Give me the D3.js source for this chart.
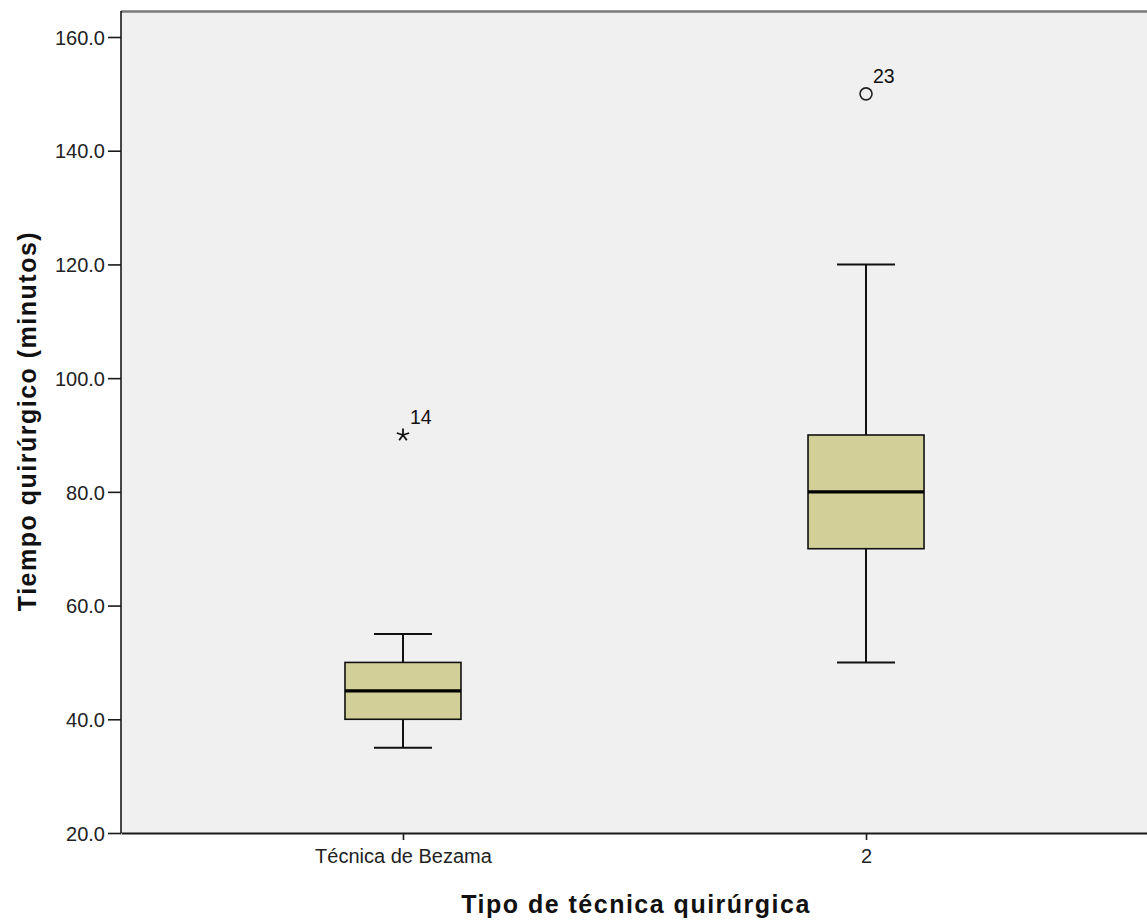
<!DOCTYPE html>
<html>
<head>
<meta charset="utf-8">
<script src="https://cdn.jsdelivr.net/npm/d3@7"></script>
<style>
  html, body { margin: 0; padding: 0; background: #ffffff; }
  svg { display: block; }
</style>
</head>
<body>
<svg id="chart" width="1147" height="924"></svg>
<script>
// Categories and five-number summaries (minutes)
const categories = ["Técnica de Bezama", "2"];
const whiskerLow = [35, 50];
const q1 = [40, 70];
const medians = [45, 80];
const q3 = [50, 90];
const whiskerHigh = [55, 120];

// Outlying cases: case id, group, value, kind (extreme = star, outlier = circle)
const outlierCase = ["14", "23"];
const outlierGroup = ["Técnica de Bezama", "2"];
const outlierValue = [90, 150];
const outlierKind = ["extreme", "outlier"];

const yTicks = [20, 40, 60, 80, 100, 120, 140, 160];
const yTitle = "Tiempo quirúrgico (minutos)";
const xTitle = "Tipo de técnica quirúrgica";

const svg = d3.select("#chart");
const plotLeft = 121, plotRight = 1148, plotTop = 11, plotBottom = 833;
const font = "Liberation Sans, Arial, sans-serif";

const y = d3.scaleLinear().domain([20, 160]).range([plotBottom, 37]);
const x = d3.scalePoint().domain(categories).range([plotLeft, plotRight]).padding(0.609);

// plot background and frame
svg.append("rect")
  .attr("x", plotLeft).attr("y", plotTop)
  .attr("width", plotRight - plotLeft).attr("height", plotBottom - plotTop)
  .attr("fill", "#f0f0f0");
svg.append("line")
  .attr("x1", plotLeft).attr("x2", plotRight)
  .attr("y1", plotTop + 0.5).attr("y2", plotTop + 0.5)
  .attr("stroke", "#7a7a7a").attr("stroke-width", 2.5);

// axes
const yAxis = d3.axisLeft(y).tickValues(yTicks).tickFormat(d3.format(".1f"))
  .tickSize(13).tickPadding(3).tickSizeOuter(0);
const gy = svg.append("g").attr("transform", `translate(${plotLeft},0)`).call(yAxis);
gy.select(".domain").attr("stroke", "#1a1a1a").attr("stroke-width", 1.6)
  .attr("d", `M0,${plotBottom}V${plotTop}`);
gy.selectAll(".tick line").attr("stroke", "#1a1a1a").attr("stroke-width", 1.6);
gy.selectAll(".tick text").attr("fill", "#222").attr("font-size", 20)
  .attr("font-family", font).attr("dy", "0.36em");

const xAxis = d3.axisBottom(x).tickSize(7).tickPadding(9).tickSizeOuter(0);
const gx = svg.append("g").attr("transform", `translate(0,${plotBottom})`).call(xAxis);
gx.select(".domain").attr("stroke", "#1a1a1a").attr("stroke-width", 2);
gx.selectAll(".tick line").attr("stroke", "#1a1a1a").attr("stroke-width", 1.6);
gx.selectAll(".tick text").attr("fill", "#222").attr("font-size", 20)
  .attr("font-family", font);

// axis titles
svg.append("text")
  .attr("x", 636).attr("y", 913)
  .attr("text-anchor", "middle")
  .attr("font-family", font)
  .attr("font-weight", "bold").attr("font-size", 25).attr("letter-spacing", 1.5)
  .attr("fill", "#111")
  .text(xTitle);
svg.append("text")
  .attr("transform", `translate(36,421) rotate(-90)`)
  .attr("text-anchor", "middle")
  .attr("font-family", font)
  .attr("font-weight", "bold").attr("font-size", 25).attr("letter-spacing", 1.5)
  .attr("fill", "#111")
  .text(yTitle);

// boxplots
const boxW = 116, capW = 58;
const plot = svg.append("g");
categories.forEach((c, i) => {
  const cx = x(c);
  const g = plot.append("g");
  // whiskers
  g.append("line").attr("x1", cx).attr("x2", cx)
    .attr("y1", y(q3[i])).attr("y2", y(whiskerHigh[i]))
    .attr("stroke", "#111").attr("stroke-width", 2);
  g.append("line").attr("x1", cx).attr("x2", cx)
    .attr("y1", y(q1[i])).attr("y2", y(whiskerLow[i]))
    .attr("stroke", "#111").attr("stroke-width", 2);
  [whiskerHigh[i], whiskerLow[i]].forEach(v => {
    g.append("line").attr("x1", cx - capW / 2).attr("x2", cx + capW / 2)
      .attr("y1", y(v)).attr("y2", y(v))
      .attr("stroke", "#111").attr("stroke-width", 2);
  });
  // box
  g.append("rect")
    .attr("x", cx - boxW / 2).attr("y", y(q3[i]))
    .attr("width", boxW).attr("height", y(q1[i]) - y(q3[i]))
    .attr("fill", "#d3cf99").attr("stroke", "#111").attr("stroke-width", 1.6);
  // median
  g.append("line").attr("x1", cx - boxW / 2).attr("x2", cx + boxW / 2)
    .attr("y1", y(medians[i])).attr("y2", y(medians[i]))
    .attr("stroke", "#000").attr("stroke-width", 3.2);
});

// outlying cases
function asteriskPath(r, n) {
  let p = "";
  for (let k = 0; k < n; k++) {
    const a = -Math.PI / 2 + k * 2 * Math.PI / n;
    p += `M0,0L${(r * Math.cos(a)).toFixed(2)},${(r * Math.sin(a)).toFixed(2)}`;
  }
  return p;
}
outlierCase.forEach((id, i) => {
  const cx = x(outlierGroup[i]);
  const cy = y(outlierValue[i]);
  if (outlierKind[i] === "extreme") {
    plot.append("path")
      .attr("transform", `translate(${cx},${cy})`)
      .attr("d", asteriskPath(6.5, 5))
      .attr("fill", "none").attr("stroke", "#111").attr("stroke-width", 1.8);
  } else {
    plot.append("circle")
      .attr("cx", cx).attr("cy", cy).attr("r", 6)
      .attr("fill", "none").attr("stroke", "#222").attr("stroke-width", 1.6);
  }
  plot.append("text")
    .attr("x", cx + 7).attr("y", cy - 11)
    .attr("font-family", font)
    .attr("font-size", 19.5).attr("fill", "#111")
    .text(id);
});
</script>
</body>
</html>
